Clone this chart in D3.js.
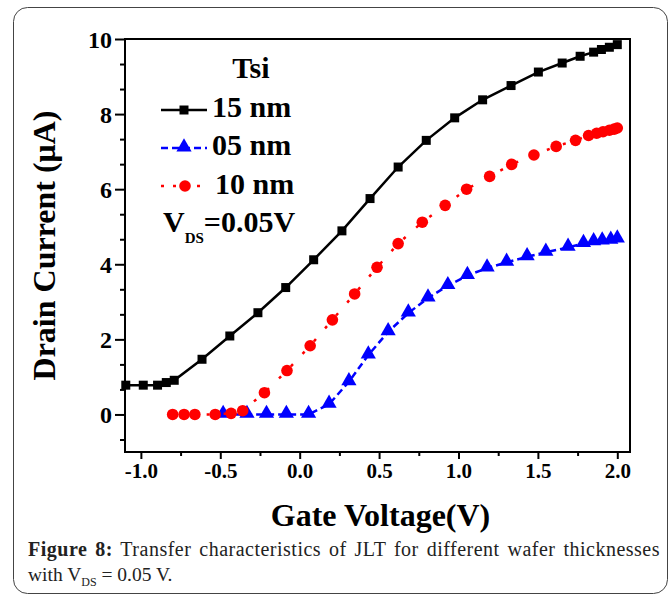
<!DOCTYPE html>
<html>
<head>
<meta charset="utf-8">
<script src="https://cdn.jsdelivr.net/npm/d3@7/dist/d3.min.js"></script>
<style>
  html, body { margin: 0; padding: 0; background: #fff; }
  svg { display: block; }
</style>
</head>
<body>
<svg id="chart" width="671" height="595"></svg>
<script>
// ---------------- data ----------------
const x15 = [-1.095, -0.985, -0.895, -0.84, -0.79, -0.615, -0.44, -0.263, -0.088, 0.088, 0.266, 0.443, 0.62, 0.797, 0.976, 1.152, 1.331, 1.503, 1.653, 1.766, 1.851, 1.9, 1.95, 2.0];
const y15 = [0.78, 0.78, 0.78, 0.85, 0.91, 1.47, 2.09, 2.71, 3.38, 4.12, 4.89, 5.75, 6.59, 7.3, 7.9, 8.38, 8.76, 9.12, 9.36, 9.54, 9.65, 9.72, 9.78, 9.85];

const x05 = [-0.482, -0.332, -0.209, -0.084, 0.056, 0.185, 0.31, 0.432, 0.557, 0.684, 0.808, 0.933, 1.056, 1.18, 1.303, 1.432, 1.55, 1.69, 1.787, 1.851, 1.905, 1.959, 2.0];
const y05 = [0, 0, 0, 0, 0, 0.27, 0.87, 1.58, 2.2, 2.7, 3.1, 3.43, 3.7, 3.9, 4.05, 4.2, 4.32, 4.45, 4.55, 4.6, 4.62, 4.64, 4.67];

const x10 = [-0.80, -0.728, -0.66, -0.532, -0.432, -0.359, -0.222, -0.08, 0.066, 0.206, 0.346, 0.487, 0.62, 0.772, 0.916, 1.051, 1.196, 1.335, 1.475, 1.615, 1.737, 1.819, 1.87, 1.91, 1.95, 1.98, 2.0];
const y10 = [0, 0, 0, 0, 0.03, 0.1, 0.58, 1.17, 1.83, 2.52, 3.21, 3.92, 4.55, 5.12, 5.57, 6.0, 6.34, 6.66, 6.91, 7.14, 7.3, 7.43, 7.49, 7.53, 7.57, 7.6, 7.63];

const xMajorTicks = [-1.0, -0.5, 0.0, 0.5, 1.0, 1.5, 2.0];
const xMinorTicks = [-0.75, -0.25, 0.25, 0.75, 1.25, 1.75];
const yMajorTicks = [0, 2, 4, 6, 8, 10];
const yMinorTicks = [-2/3, 2/3, 4/3, 8/3, 10/3, 14/3, 16/3, 20/3, 22/3, 26/3, 28/3];

const seriesNames = ["15 nm", "05 nm", "10 nm"];
const legendTitle = "Tsi";
const xTitle = "Gate Voltage(V)";
const yTitle = "Drain Current (\u03BCA)";

// ---------------- layout ----------------
const svg = d3.select("#chart");
const serif = "'Liberation Serif', 'Times New Roman', serif";
const plot = { left: 125, right: 630, top: 39, bottom: 452 };

const x = d3.scaleLinear().domain([-1.1, 2.08]).range([plot.left, plot.right]);
const y = d3.scaleLinear().domain([-1, 10]).range([plot.bottom, plot.top]);

// outer rounded frame
svg.append("rect")
  .attr("x", 13.5).attr("y", 7.5).attr("width", 654).attr("height", 586)
  .attr("rx", 14).attr("ry", 14)
  .attr("fill", "none").attr("stroke", "#444").attr("stroke-width", 1);

// axes
const fmt = d => d3.format(".1f")(d).replace("\u2212", "-");
const xAxis = d3.axisBottom(x).tickValues(xMajorTicks).tickFormat(fmt).tickSizeInner(7).tickSizeOuter(0).tickPadding(4);
const xAxisMinor = d3.axisBottom(x).tickValues(xMinorTicks).tickFormat("").tickSizeInner(4).tickSizeOuter(0);
const yAxis = d3.axisLeft(y).tickValues(yMajorTicks).tickFormat(d3.format("d")).tickSizeInner(10).tickSizeOuter(0).tickPadding(3);
const yAxisMinor = d3.axisLeft(y).tickValues(yMinorTicks).tickFormat("").tickSizeInner(5).tickSizeOuter(0);

function styleAxis(g, fs) {
  g.select(".domain").remove();
  g.selectAll(".tick line").attr("stroke", "#000").attr("stroke-width", 2);
  g.selectAll(".tick text").attr("fill", "#000")
    .attr("font-family", serif).attr("font-weight", "bold").attr("font-size", fs);
}

svg.append("g").attr("transform", `translate(0,${plot.bottom})`).call(xAxisMinor).call(g => styleAxis(g, 21));
svg.append("g").attr("transform", `translate(0,${plot.bottom})`).call(xAxis).call(g => styleAxis(g, 21));
svg.append("g").attr("transform", `translate(${plot.left},0)`).call(yAxisMinor).call(g => styleAxis(g, 24));
svg.append("g").attr("transform", `translate(${plot.left},0)`).call(yAxis).call(g => styleAxis(g, 24))
  .selectAll(".tick text").attr("dy", "0.34em");

// frame of the plot
svg.append("rect")
  .attr("x", plot.left).attr("y", plot.top)
  .attr("width", plot.right - plot.left).attr("height", plot.bottom - plot.top)
  .attr("fill", "none").attr("stroke", "#000").attr("stroke-width", 2);

// axis titles
svg.append("text")
  .attr("x", (plot.left + plot.right) / 2 + 3).attr("y", 526)
  .attr("text-anchor", "middle")
  .attr("font-family", serif).attr("font-weight", "bold").attr("font-size", 32)
  .text(xTitle);

svg.append("text")
  .attr("transform", `translate(55,${(plot.top + plot.bottom) / 2}) rotate(-90)`)
  .attr("text-anchor", "middle")
  .attr("font-family", serif).attr("font-weight", "bold").attr("font-size", 32)
  .text(yTitle);

// ---------------- series ----------------
const line = d3.line().x(d => x(d[0])).y(d => y(d[1]));
const d15 = x15.map((v, i) => [v, y15[i]]);
const d05 = x05.map((v, i) => [v, y05[i]]);
const d10 = x10.map((v, i) => [v, y10[i]]);

const black = "#000", blue = "#0000ff", red = "#ff0000";
const sq = d3.symbol().type(d3.symbolSquare).size(81);
const tri = d3.symbol().type(d3.symbolTriangle).size(100);

// 15 nm
svg.append("path").datum(d15).attr("d", line)
  .attr("fill", "none").attr("stroke", black).attr("stroke-width", 2.5);
svg.append("g").selectAll("path").data(d15).join("path")
  .attr("d", sq).attr("transform", d => `translate(${x(d[0])},${y(d[1])})`).attr("fill", black);

// 05 nm
svg.append("path").datum(d05).attr("d", line)
  .attr("fill", "none").attr("stroke", blue).attr("stroke-width", 2.5)
  .attr("stroke-dasharray", "7,4");
svg.append("g").selectAll("path").data(d05).join("path")
  .attr("d", tri).attr("transform", d => `translate(${x(d[0])},${y(d[1]) - 1})`).attr("fill", blue);

// 10 nm
svg.append("path").datum(d10).attr("d", line)
  .attr("fill", "none").attr("stroke", red).attr("stroke-width", 2.5)
  .attr("stroke-dasharray", "3,14");
svg.append("g").selectAll("circle").data(d10).join("circle")
  .attr("cx", d => x(d[0])).attr("cy", d => y(d[1])).attr("r", 5.8).attr("fill", red);

// ---------------- legend ----------------
const lg = svg.append("g").attr("font-family", serif).attr("font-weight", "bold").attr("font-size", 30).attr("fill", "#000");
lg.append("text").attr("x", 251).attr("y", 78).attr("text-anchor", "middle").text(legendTitle);

const rows = [
  { name: seriesNames[0], y: 117, color: black },
  { name: seriesNames[1], y: 155, color: blue },
  { name: seriesNames[2], y: 194, color: red }
];
// 15 nm
lg.append("line").attr("x1", 161).attr("x2", 207).attr("y1", rows[0].y - 7).attr("y2", rows[0].y - 7)
  .attr("stroke", black).attr("stroke-width", 2.5);
lg.append("path").attr("d", sq).attr("transform", `translate(184,${rows[0].y - 7})`).attr("fill", black);
lg.append("text").attr("x", 212).attr("y", rows[0].y).text(rows[0].name);
// 05 nm
lg.append("line").attr("x1", 161).attr("x2", 207).attr("y1", rows[1].y - 7).attr("y2", rows[1].y - 7)
  .attr("stroke", blue).attr("stroke-width", 2.5).attr("stroke-dasharray", "7,4");
lg.append("path").attr("d", tri).attr("transform", `translate(184,${rows[1].y - 8})`).attr("fill", blue);
lg.append("text").attr("x", 212).attr("y", rows[1].y).text(rows[1].name);
// 10 nm
lg.append("line").attr("x1", 161).attr("x2", 208).attr("y1", rows[2].y - 8).attr("y2", rows[2].y - 8)
  .attr("stroke", red).attr("stroke-width", 2.5).attr("stroke-dasharray", "3,9");
lg.append("circle").attr("cx", 185).attr("cy", rows[2].y - 8).attr("r", 5.8).attr("fill", red);
lg.append("text").attr("x", 215).attr("y", rows[2].y).text(rows[2].name);
// VDS
const vt = lg.append("text").attr("x", 163).attr("y", 232);
vt.append("tspan").text("V");
vt.append("tspan").attr("font-size", 15).attr("dy", 11).text("DS");
vt.append("tspan").attr("dy", -11).text("=0.05V");

// ---------------- caption ----------------
const capFont = 20;
const cap1 = svg.append("text").attr("x", 28).attr("y", 556)
  .attr("font-family", serif).attr("font-size", capFont).attr("fill", "#222")
  .attr("letter-spacing", 0.5);
cap1.append("tspan").attr("font-weight", "bold").text("Figure 8:");
cap1.append("tspan").text(" Transfer characteristics of JLT for different wafer thicknesses");
const natural = cap1.node().getComputedTextLength();
const target = 660 - 28;
cap1.attr("word-spacing", Math.max(0, (target - natural) / 9));

const cap2 = svg.append("text").attr("x", 28).attr("y", 581)
  .attr("font-family", serif).attr("font-size", 19.5).attr("fill", "#222");
cap2.append("tspan").text("with V");
cap2.append("tspan").attr("font-size", 12).attr("dy", 5).text("DS");
cap2.append("tspan").attr("dy", -5).text(" = 0.05 V.");
</script>
</body>
</html>
